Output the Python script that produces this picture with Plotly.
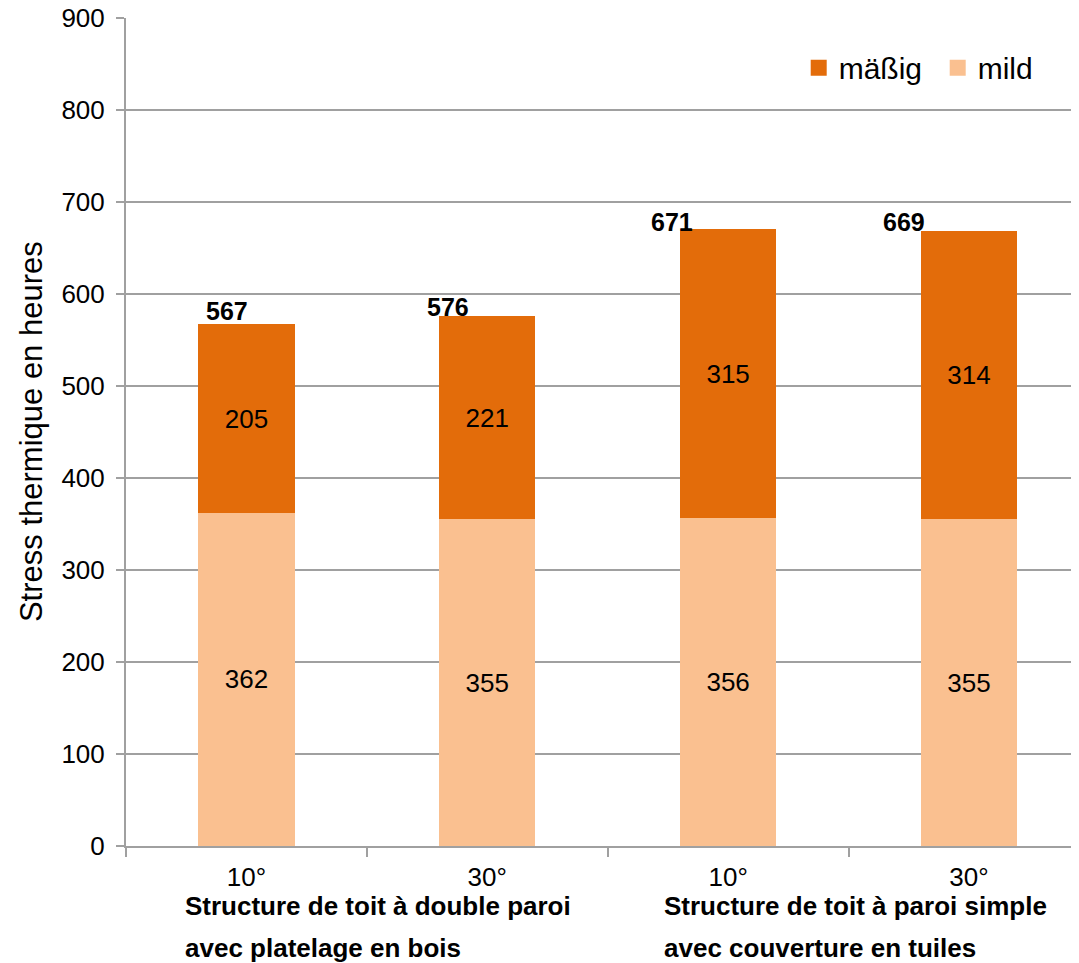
import plotly.graph_objects as go

# ---- data ----
categories = ["10°", "30°", "10°", "30°"]
group_line1 = ["Structure de toit à double paroi", "Structure de toit à paroi simple"]
group_line2 = ["avec platelage en bois", "avec couverture en tuiles"]
mild = [362, 355, 356, 355]
maessig = [205, 221, 315, 314]
totals = [567, 576, 671, 669]
y_ticks = [0, 100, 200, 300, 400, 500, 600, 700, 800, 900]

# ---- style ----
C_MAESSIG = "#E36C0A"
C_MILD = "#FAC090"
GRID = "#A0A0A0"
FONT = "Liberation Sans, Arial, sans-serif"
total_dx = [-19, -39, -56, -65]
total_dy = [13, 9, 7, 9]
group_x = [-0.263, 1.727]

xs = list(range(len(categories)))

fig = go.Figure()
fig.add_trace(go.Bar(x=xs, y=mild, name="mild", marker=dict(color=C_MILD, line=dict(width=0)),
                     width=0.4, text=mild, textposition="inside", insidetextanchor="middle",
                     textfont=dict(size=26, color="black", family=FONT), showlegend=False))
fig.add_trace(go.Bar(x=xs, y=maessig, name="mäßig", marker=dict(color=C_MAESSIG, line=dict(width=0)),
                     width=0.4, text=maessig, textposition="inside", insidetextanchor="middle",
                     textfont=dict(size=26, color="black", family=FONT), showlegend=False))
# legend entries
fig.add_trace(go.Scatter(x=[None], y=[None], mode="markers", name="mäßig",
                         marker=dict(symbol="square", size=22, color=C_MAESSIG)))
fig.add_trace(go.Scatter(x=[None], y=[None], mode="markers", name="mild",
                         marker=dict(symbol="square", size=22, color=C_MILD)))

for i, t in enumerate(totals):
    fig.add_annotation(x=xs[i], y=t, text=f"<b>{t}</b>", showarrow=False,
                       xanchor="center", yanchor="middle", xshift=total_dx[i], yshift=total_dy[i],
                       font=dict(size=25, color="black", family=FONT))

for g in range(len(group_line1)):
    fig.add_annotation(x=group_x[g], xref="x", y=-0.0725, yref="paper", text=f"<b>{group_line1[g]}</b>",
                       showarrow=False, xanchor="left", yanchor="middle",
                       font=dict(size=26, color="black", family=FONT))
    fig.add_annotation(x=group_x[g], xref="x", y=-0.1232, yref="paper", text=f"<b>{group_line2[g]}</b>",
                       showarrow=False, xanchor="left", yanchor="middle",
                       font=dict(size=26, color="black", family=FONT))

fig.add_annotation(x=-0.0988, xref="paper", y=0.5, yref="paper", text="Stress thermique en heures",
                   textangle=-90, showarrow=False, xanchor="center", yanchor="middle",
                   font=dict(size=31, color="black", family=FONT))

fig.update_layout(
    width=1079, height=963,
    margin=dict(l=118, r=0, t=10, b=125, autoexpand=False),
    barmode="stack",
    plot_bgcolor="white", paper_bgcolor="white",
    font=dict(family=FONT, size=26, color="black"),
    legend=dict(orientation="h", x=0.7, xanchor="left", y=0.94, yanchor="middle",
                traceorder="normal", entrywidth=94, entrywidthmode="pixels",
                font=dict(size=30, family=FONT), bgcolor="rgba(0,0,0,0)"),
    xaxis=dict(range=[-0.5, 3.49], tickvals=xs, ticktext=categories, ticks="",
               showline=True, linecolor=GRID, linewidth=2, showgrid=False, zeroline=False,
               ticklabelstandoff=7, tickfont=dict(size=26), ticklabeloverflow="allow",
               minor=dict(tickvals=[-0.5, 0.5, 1.5, 2.5, 3.5], ticks="outside", ticklen=9,
                          tickcolor=GRID, tickwidth=2, showgrid=False)),
    yaxis=dict(range=[0, 900], tickvals=y_ticks, showgrid=True, gridcolor=GRID, gridwidth=2,
               showline=True, linecolor=GRID, linewidth=2, ticks="outside", ticklen=8,
               tickcolor=GRID, tickwidth=2, zeroline=False, ticklabelstandoff=6,
               ticklabeloverflow="allow", tickfont=dict(size=26)),
)

fig.write_html("out.html")
